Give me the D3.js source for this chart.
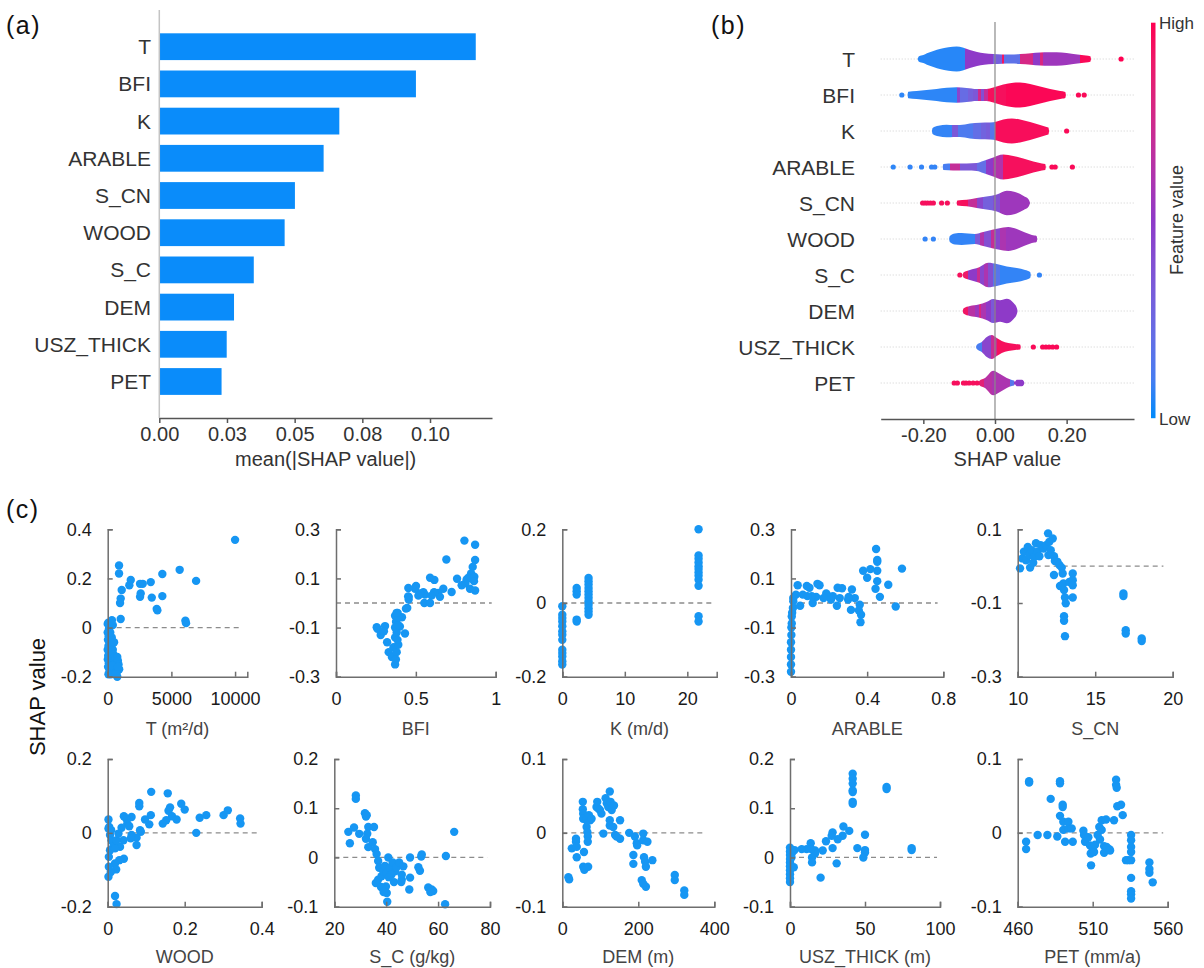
<!DOCTYPE html>
<html>
<head>
<meta charset="utf-8">
<script src="https://cdn.jsdelivr.net/npm/d3@7"></script>
<style>
  body { margin: 0; background: #fff; }
  svg { font-family: "Liberation Sans", Arial, sans-serif; }
</style>
</head>
<body>
<svg id="chart" width="1204" height="968"></svg>
<script>
'use strict';

// ---- (a) mean |SHAP| ----
var features = ['T', 'BFI', 'K', 'ARABLE', 'S_CN', 'WOOD', 'S_C', 'DEM', 'USZ_THICK', 'PET'];
var meanAbsShap = [0.1169, 0.0948, 0.0665, 0.0607, 0.0501, 0.0463, 0.0349, 0.0276, 0.0249, 0.0230];
var barTicks = [0, 0.025, 0.05, 0.075, 0.1];
var barTickLabels = ['0.00', '0.03', '0.05', '0.08', '0.10'];

// ---- (b) violin summary: [shap, relative density], [shap from, feature value], [shap, feature value] ----
var violinTicks = [-0.2, 0, 0.2];
var violinTickLabels = ['-0.20', '0.00', '0.20'];
var violinDensity = [
  [[-0.216,0],[-0.212,0.22],[-0.2,0.32],[-0.19,0.46],[-0.17,0.66],[-0.154,0.8],[-0.13,0.94],[-0.107,1],[-0.09,0.92],[-0.07,0.72],[-0.05,0.56],[-0.03,0.46],[-0.005,0.4],[0.02,0.37],[0.042,0.36],[0.07,0.4],[0.1,0.46],[0.126,0.52],[0.15,0.54],[0.172,0.54],[0.2,0.48],[0.219,0.4],[0.242,0.32],[0.266,0.22],[0.268,0]],
  [[-0.244,0],[-0.242,0.26],[-0.219,0.32],[-0.191,0.4],[-0.163,0.48],[-0.135,0.58],[-0.107,0.62],[-0.079,0.56],[-0.051,0.48],[-0.024,0.48],[-0.005,0.6],[0.023,0.84],[0.051,0.98],[0.07,1],[0.098,0.88],[0.126,0.68],[0.154,0.48],[0.182,0.32],[0.196,0.24],[0.198,0]],
  [[-0.176,0],[-0.174,0.24],[-0.158,0.42],[-0.135,0.5],[-0.116,0.48],[-0.098,0.48],[-0.07,0.6],[-0.042,0.66],[-0.014,0.68],[0.005,0.76],[0.023,0.92],[0.047,1],[0.07,0.92],[0.098,0.72],[0.126,0.48],[0.144,0.32],[0.149,0.28],[0.151,0]],
  [[-0.146,0],[-0.144,0.24],[-0.117,0.28],[-0.079,0.28],[-0.051,0.32],[-0.033,0.48],[-0.009,0.72],[0.023,1],[0.051,0.88],[0.079,0.68],[0.107,0.44],[0.131,0.28],[0.14,0.24],[0.142,0]],
  [[-0.107,0],[-0.105,0.2],[-0.079,0.26],[-0.051,0.4],[-0.024,0.52],[0.005,0.68],[0.033,0.98],[0.056,0.88],[0.08,0.56],[0.094,0.28],[0.096,0.16],[0.098,0]],
  [[-0.128,0],[-0.126,0.24],[-0.112,0.44],[-0.093,0.48],[-0.075,0.44],[-0.056,0.4],[-0.033,0.56],[-0.005,0.76],[0.023,0.92],[0.037,0.96],[0.061,0.8],[0.084,0.52],[0.103,0.32],[0.116,0.24],[0.118,0]],
  [[-0.09,0],[-0.088,0.2],[-0.07,0.4],[-0.046,0.6],[-0.019,0.98],[0.005,0.88],[0.033,0.68],[0.061,0.56],[0.084,0.4],[0.098,0.24],[0.1,0]],
  [[-0.09,0],[-0.088,0.2],[-0.07,0.4],[-0.046,0.52],[-0.024,0.72],[-0.005,0.96],[0.014,0.86],[0.033,0.98],[0.052,0.64],[0.061,0.24],[0.063,0]],
  [[-0.053,0],[-0.051,0.16],[-0.037,0.4],[-0.023,0.8],[-0.009,0.96],[0.005,0.72],[0.019,0.48],[0.037,0.32],[0.056,0.24],[0.07,0.2],[0.072,0]],
  [[-0.046,0],[-0.044,0.16],[-0.028,0.4],[-0.005,0.98],[0.014,0.72],[0.033,0.4],[0.047,0.24],[0.053,0.2],[0.055,0.1],[0.061,0.26],[0.075,0.26],[0.08,0.16],[0.082,0]]
];
var violinColor = [
  [[-0.22,0.03],[-0.084,0.5],[-0.005,0.3],[0.019,0.92],[0.025,0.18],[0.07,0.78],[0.107,0.5],[0.126,0.8],[0.133,0.55],[0.237,0.97]],
  [[-0.25,0.04],[-0.107,0.45],[-0.098,0.22],[-0.075,0.3],[-0.061,0.35],[-0.047,0.75],[-0.038,0.4],[-0.032,0.7],[-0.02,0.95],[0.03,0.98]],
  [[-0.18,0.05],[-0.121,0.35],[-0.102,0.12],[-0.061,0.2],[-0.04,0.28],[-0.024,0.32],[-0.014,0.15],[0.0,0.96]],
  [[-0.15,0.1],[-0.126,0.7],[-0.098,0.35],[-0.051,0.2],[-0.024,0.5],[-0.005,0.62],[0.023,0.95]],
  [[-0.11,0.95],[-0.075,0.7],[-0.051,0.45],[-0.033,0.3],[-0.005,0.4],[0.014,0.55]],
  [[-0.13,0.05],[-0.056,0.35],[-0.042,0.62],[-0.03,0.4],[-0.01,0.7],[0.0,0.45],[0.014,0.6],[0.03,0.55]],
  [[-0.09,0.9],[-0.074,0.5],[-0.05,0.72],[-0.042,0.45],[-0.03,0.6],[-0.019,0.4],[-0.005,0.15],[0.014,0.05]],
  [[-0.09,0.92],[-0.075,0.65],[-0.056,0.55],[-0.046,0.8],[-0.04,0.6],[-0.024,0.5],[-0.012,0.35],[-0.004,0.5]],
  [[-0.055,0.1],[-0.036,0.45],[-0.011,0.72],[0.005,0.95]],
  [[-0.05,0.85],[-0.03,0.65],[-0.009,0.6],[0.042,0.15],[0.053,0.5]]
];
var violinDots = [
  [[0.352,1]],
  [[-0.26,0.04],[0.233,0.97],[0.249,0.97]],
  [[0.2,0.97]],
  [[-0.284,0.04],[-0.237,0.05],[-0.205,0.05],[-0.177,0.05],[-0.168,0.05],[0.159,0.97],[0.168,0.97],[0.216,0.97]],
  [[-0.202,0.95],[-0.195,0.95],[-0.188,0.95],[-0.18,0.95],[-0.172,0.95],[-0.149,0.95],[-0.133,0.95]],
  [[-0.195,0.05],[-0.172,0.05]],
  [[-0.098,0.95],[0.124,0.05]],
  [],
  [[0.107,0.97],[0.133,0.97],[0.142,0.97],[0.151,0.97],[0.161,0.97],[0.172,0.97]],
  [[-0.114,0.95],[-0.105,0.95],[-0.088,0.95],[-0.081,0.95],[-0.072,0.95],[-0.061,0.95],[-0.05,0.95]]
];

// ---- (c) dependence plots ----
var scatterTitles = ['T (m\u00b2/d)', 'BFI', 'K (m/d)', 'ARABLE', 'S_CN', 'WOOD', 'S_C (g/kg)', 'DEM (m)', 'USZ_THICK (m)', 'PET (mm/a)'];
var scatterXDomain = [[0,10960],[0,1],[0,24.7],[0,0.8],[10,20],[0,0.4],[20,80],[0,400],[0,100],[460,560]];
var scatterXTicks = [[0,5000,10000],[0,0.5,1],[0,10,20],[0,0.4,0.8],[10,15,20],[0,0.2,0.4],[20,40,60,80],[0,200,400],[0,50,100],[460,510,560]];
var scatterYDomain = [[-0.2,0.4],[-0.3,0.3],[-0.2,0.2],[-0.3,0.3],[-0.3,0.1],[-0.2,0.2],[-0.1,0.2],[-0.1,0.1],[-0.1,0.2],[-0.1,0.1]];
var scatterYTicks = [[-0.2,0,0.2,0.4],[-0.3,-0.1,0.1,0.3],[-0.2,0,0.2],[-0.3,-0.1,0.1,0.3],[-0.3,-0.1,0.1],[-0.2,0,0.2],[-0.1,0,0.1,0.2],[-0.1,0,0.1],[-0.1,0,0.1,0.2],[-0.1,0,0.1]];
var zeroLineEnd = [10440, 0.975, 24, 0.77, 19.4, 0.39, 79, 375, 98, 557];

var ptsT = [[10000,0.357],[5650,0.235],[6940,0.19],[4290,0.218],[4290,0.128],[3850,0.076],[3900,0.07],[3380,0.185],[3460,0.122],[2750,0.178],[2540,0.178],[2590,0.139],[2540,0.125],[1810,0.194],[1700,0.172],[1100,0.153],[1020,0.118],[970,0.1],[890,0.253],[890,0.22],[1020,0.035],[6100,0.028],[6150,0.018],
  [0,0.015],[50,0.02],[100,-0.005],[0,-0.02],[80,-0.035],[20,-0.05],[150,-0.06],[60,-0.075],[0,-0.09],[120,-0.1],[40,-0.115],[200,-0.12],[10,-0.13],[90,-0.145],[30,-0.16],[150,-0.175],[60,-0.19],[250,-0.06],[300,-0.08],[350,-0.1],[280,-0.13],[400,-0.09],[450,-0.11],[500,-0.14],[550,-0.12],[600,-0.13],[650,-0.155],[700,-0.145],[750,-0.12],[800,-0.135],[850,-0.15],[900,-0.17],[700,-0.185],[750,-0.2],[480,-0.17],[380,-0.155],[320,-0.04],[400,0.01],[330,0.03],[200,-0.02],[250,-0.19],[600,-0.19],[800,-0.16],[500,-0.06]];
var ptsBFI = [[0.804,0.254],[0.871,0.237],[0.691,0.177],[0.871,0.175],[0.856,0.147],[0.758,0.099],[0.846,0.12],[0.829,0.103],[0.866,0.107],[0.864,0.089],[0.818,0.096],[0.81,0.08],[0.787,0.072],[0.839,0.058],[0.871,0.051],[0.724,0.045],[0.672,0.058],[0.64,0.041],[0.651,0.025],[0.614,0.044],[0.599,0.03],[0.589,0.103],[0.616,0.094],[0.547,0.044],[0.557,0.034],[0.526,0.039],[0.501,0.069],[0.495,0.058],[0.516,0.03],[0.453,0.061],[0.455,0.025],[0.455,0.014],[0.553,0.0],[0.589,0.0],[0.438,-0.023],[0.413,-0.058],[0.386,-0.041],[0.37,-0.052],[0.376,-0.076],[0.307,-0.094],[0.255,-0.099],[0.4,-0.096],[0.432,-0.124],[0.446,-0.02],[0.452,0.027],[0.26,-0.105],[0.28,-0.13],[0.3,-0.115],[0.32,-0.16],[0.33,-0.2],[0.35,-0.22],[0.36,-0.18],[0.37,-0.14],[0.37,-0.25],[0.38,-0.12],[0.38,-0.2],[0.39,-0.17],[0.39,-0.06],[0.37,-0.1],[0.38,-0.04],[0.375,-0.23],[0.385,-0.15],[0.39,-0.09]];
var ptsK = [[0,-0.009],[0,-0.032],[0,-0.041],[0,-0.05],[0,-0.063],[0,-0.077],[0,-0.086],[0,-0.1],[0,-0.127],[0,-0.136],[0,-0.145],[0,-0.158],[0,-0.167],
  [2.3,0.041],[2.3,0.032],[2.3,0.023],[2.3,-0.045],[2.3,-0.05],
  [4.2,0.068],[4.2,0.059],[4.2,0.05],[4.2,0.041],[4.2,0.032],[4.2,0.023],[4.2,0.014],[4.2,0.005],[4.2,-0.005],[4.2,-0.014],[4.2,-0.023],[4.2,-0.032],
  [21.8,0.2],[21.8,0.129],[21.8,0.12],[21.8,0.11],[21.8,0.1],[21.8,0.092],[21.8,0.083],[21.8,0.074],[21.8,0.063],[21.8,0.047],[21.8,-0.036],[21.8,-0.05]];
var ptsARABLE = [[0.447,0.22],[0.453,0.175],[0.453,0.168],[0.453,0.131],[0.453,0.089],[0.444,0.058],[0.467,0.025],[0.379,0.131],[0.4,0.103],[0.417,0.138],[0.511,0.074],[0.583,0.14],[0.55,-0.014],[0.361,-0.007],[0.356,-0.03],[0.368,-0.048],[0.365,-0.078],[0.315,-0.028],[0.32,0.055],[0.335,0.02],[0.3,0.014],[0.303,0.025],[0.268,0.06],[0.245,0.062],[0.256,0.02],[0.241,-0.011],[0.22,0.028],[0.21,0.014],[0.197,0.028],[0.185,0.039],[0.171,0.02],[0.15,0.072],[0.139,0.078],[0.132,0.025],[0.114,0.0],[0.109,0.028],[0.097,0.062],[0.083,0.069],[0.086,0.028],[0.062,0.034],[0.048,-0.011],[0.035,0.072],[0.026,0.034],[0.012,0.02],[0.012,0.007],
  [0.004,-0.083],[0.004,-0.055],[0.002,-0.1],[0.002,-0.13],[0,-0.16],[0,-0.19],[0,-0.22],[0,-0.25],[0,-0.28],[0.006,-0.04],[0.01,-0.02]];
var ptsS_CN = [[10.15,-0.006],[10.3,0.021],[10.4,0.039],[10.54,0.016],[10.65,0.052],[10.75,0.03],[10.8,-0.004],[10.9,0.043],[11.0,0.009],[11.05,0.025],[11.18,0.062],[11.27,0.039],[11.4,0.027],[11.48,0.057],[11.66,0.048],[11.83,0.057],[11.96,0.089],[12.04,0.066],[12.13,0.043],[12.26,0.075],[11.98,0.03],[12.34,0.027],[12.4,0.014],[12.56,0.012],[12.69,0.003],[12.34,-0.024],[12.84,-0.004],[12.9,-0.02],[12.73,-0.054],[12.95,-0.047],[12.99,-0.065],[13.05,-0.085],[13.1,-0.101],[12.99,-0.136],[12.99,-0.148],[13.05,-0.19],[13.33,-0.043],[13.55,-0.02],[13.55,-0.038],[13.55,-0.052],[13.55,-0.085],[16.82,-0.074],[16.82,-0.081],[16.97,-0.174],[16.97,-0.183],[18.0,-0.196],[18.0,-0.203]];
var ptsWOOD = [[0.113,0.111],[0.156,0.107],[0.082,0.081],[0.082,0.072],[0.191,0.079],[0.2,0.063],[0.162,0.069],[0.158,0.06],[0.167,0.045],[0.179,0.036],[0.152,0.034],[0.143,0.025],[0.239,0.041],[0.256,0.048],[0.301,0.048],[0.312,0.061],[0.344,0.039],[0.345,0.025],[0.23,0.0],[0.112,0.048],[0.108,0.023],[0.097,0.036],[0.084,0.007],[0.086,0.003],[0.075,-0.013],[0.075,-0.033],[0.062,-0.006],[0.06,-0.015],[0.062,0.043],[0.048,0.039],[0.042,0.045],[0.051,0.025],[0.056,0.018],[0.036,0.014],[0.041,-0.02],[0.032,-0.038],[0.042,-0.07],[0.03,-0.074],[0.019,-0.083],[0.022,-0.099],[0.008,-0.106],[0.002,-0.119],[0.002,0.036],[0.002,0.012],[0.006,-0.006],[0.01,-0.02],[0.015,-0.036],[0.006,-0.047],[0.003,-0.065],[0.003,-0.092],[0.019,-0.042],[0.023,-0.02],[0.028,-0.002],[0.019,-0.171],[0.023,-0.193],[0.004,0.016],[0.009,0.007]];
var ptsS_C = [[25.4,0.052],[26.0,0.029],[27.6,0.061],[28.3,0.126],[28.3,0.119],[29.6,0.048],[31.8,0.09],[32.2,0.083],[32.5,0.086],[33.1,0.062],[32.7,0.048],[32.2,0.038],[33.1,0.021],[35.3,0.062],[34.8,0.031],[35.7,0.017],[36.3,0.007],[36.9,-0.007],[37.3,-0.021],[36.0,-0.052],[36.9,-0.045],[38.2,-0.038],[38.9,-0.028],[39.5,-0.017],[40.2,-0.031],[39.9,-0.059],[40.2,-0.072],[40.4,-0.09],[40.8,0.0],[41.4,-0.021],[42.5,-0.01],[43.4,-0.028],[42,-0.035],[44,-0.02],[43,-0.05],[41,-0.04],[45,-0.01],[46,-0.045],[38,-0.06],[39,-0.07],[46.6,-0.018],[49.2,0.0],[49.2,-0.041],[48.9,-0.065],[52.4,-0.02],[53.0,-0.027],[53.7,0.006],[53.5,0.002],[56.2,-0.061],[57.5,-0.065],[58.1,-0.068],[57,-0.07],[62.7,-0.095],[63.0,0.003],[66.2,0.052],[46,-0.035],[45.8,-0.05]];
var ptsDEM = [[16,-0.06],[18,-0.063],[25,-0.021],[36,-0.008],[36,-0.012],[38,-0.019],[38,-0.033],[54,0.042],[54,0.032],[55,0.026],[55,0.019],[57,-0.026],[55,-0.046],[58,-0.05],[64,0.017],[64,0.008],[66,0.001],[67,-0.005],[67,-0.012],[68,-0.046],[70,0.024],[73,0.017],[77,0.019],[90,0.035],[92,0.042],[95,0.033],[99,0.031],[103,0.026],[108,-0.001],[114,0.047],[117,0.04],[121,0.035],[125,0.056],[127,0.042],[130,0.031],[125,0.017],[125,0.01],[134,0.008],[136,0.037],[139,-0.003],[143,-0.005],[152,0.017],[152,-0.008],[176,0.0],[191,-0.005],[196,-0.014],[187,-0.03],[187,-0.042],[197,-0.017],[213,-0.001],[213,-0.01],[215,-0.033],[218,-0.039],[220,-0.046],[209,-0.064],[213,-0.069],[220,-0.073],[224,-0.012],[237,-0.037],[296,-0.057],[296,-0.064],[321,-0.078],[321,-0.084]];
var ptsUSZ = [[41.8,0.17],[41.8,0.16],[41.8,0.15],[41.8,0.136],[41.8,0.133],[41.8,0.113],[41.8,0.109],[64.4,0.143],[64.4,0.139],[81.1,0.019],[81.1,0.015],[50,0.046],[50,0.015],[50,0.01],[48.9,0.0],[44.9,0.019],[39.5,0.054],[35.6,0.063],[35.1,0.044],[31.8,0.037],[28.4,0.051],[28.4,0.019],[27.8,0.044],[31.1,-0.012],[24,0.033],[21.8,0.014],[20.4,-0.041],[16.7,0.014],[16.7,0.008],[13.8,0.029],[14.2,0.017],[11.1,0.017],[14.7,0.0],[14.7,-0.01],[7.8,0.017],
  [0,0.02],[0,0.012],[0,0.005],[0,-0.003],[0,-0.01],[0,-0.018],[0,-0.026],[0,-0.034],[0,-0.042],[0,-0.05],[1.5,0.01],[2.5,-0.02],[1,0.0],[3,0.015]];
var ptsPET = [[465.6,-0.012],[465.6,-0.022],[467.6,0.07],[467.6,0.068],[473.3,-0.003],[479.8,-0.003],[482,0.046],[486.4,-0.005],[488.2,0.07],[488.2,0.067],[488.2,0.023],[490,0.038],[490,0.035],[490.4,0.015],[490.4,0.004],[491.6,-0.012],[493.8,0.015],[493.8,0.006],[496,0.006],[496.7,-0.012],[503.8,0.003],[504.2,-0.003],[504.9,-0.012],[507.1,-0.006],[508.2,-0.017],[508.7,-0.028],[508.9,-0.044],[510,-0.022],[510.9,-0.026],[511.6,-0.016],[513.3,-0.003],[514.4,0.008],[514.9,-0.009],[516,0.004],[516,0.017],[517.6,-0.018],[517.6,-0.027],[518.9,0.018],[519.3,-0.019],[521.1,-0.022],[521.6,-0.024],[524.2,0.017],[525.6,0.072],[525.6,0.065],[526,0.061],[526.4,0.036],[528.9,0.038],[530,0.024],[532.2,-0.037],[533.8,-0.037],[535.6,-0.003],[535.6,-0.01],[535.6,-0.019],[535.6,-0.026],[535.6,-0.037],[535.6,-0.061],[535.6,-0.079],[535.6,-0.083],[535.6,-0.089],[547.8,-0.04],[547.8,-0.049],[547.8,-0.054],[550,-0.067]];
var scatterPoints = [ptsT, ptsBFI, ptsK, ptsARABLE, ptsS_CN, ptsWOOD, ptsS_C, ptsDEM, ptsUSZ, ptsPET];

var svg = d3.select('#chart');
var fvColor = d3.scaleLinear()
  .domain([0, 0.5, 1])
  .range(['#008bfb', '#8e3ac8', '#ff0051'])
  .interpolate(d3.interpolateLab);

drawBars();
drawViolins();
drawScatters();

function panelLabel(text, x, y) {
  svg.append('text')
    .attr('x', x).attr('y', y)
    .attr('font-size', 25)
    .attr('letter-spacing', 1.5)
    .attr('fill', '#111')
    .text(text);
}

function drawBars() {
  var x = d3.scaleLinear().domain([0, 0.1229]).range([159.3, 492]);
  var y = d3.scaleBand().domain(features).range([28.1, 400.1])
    .paddingInner(0.28).paddingOuter(0.14);
  var g = svg.append('g');

  g.selectAll('rect.bar')
    .data(meanAbsShap)
    .enter().append('rect')
    .attr('class', 'bar')
    .attr('x', x(0))
    .attr('y', function(d, i) { return y(features[i]); })
    .attr('width', function(d) { return x(d) - x(0); })
    .attr('height', y.bandwidth())
    .attr('fill', '#0a8cfa');

  g.selectAll('text.flab')
    .data(features)
    .enter().append('text')
    .attr('class', 'flab')
    .attr('x', 151)
    .attr('y', function(d) { return y(d) + y.bandwidth() / 2; })
    .attr('dy', '0.36em')
    .attr('text-anchor', 'end')
    .attr('font-size', 21)
    .attr('fill', '#333')
    .text(function(d) { return d; });

  g.append('line')
    .attr('x1', x(0)).attr('x2', x(0))
    .attr('y1', 10).attr('y2', 418)
    .attr('stroke', '#c4c4c4').attr('stroke-width', 1.5);

  var ax = g.append('g')
    .attr('transform', 'translate(0,418)')
    .call(d3.axisBottom(x).tickValues(barTicks)
      .tickFormat(function(d, i) { return barTickLabels[i]; })
      .tickSize(5).tickSizeOuter(0).tickPadding(4));
  styleAxis(ax, '#555', '#333', 20);

  g.append('text')
    .attr('x', (x.range()[0] + x.range()[1]) / 2)
    .attr('y', 466)
    .attr('text-anchor', 'middle')
    .attr('font-size', 20)
    .attr('fill', '#333')
    .text('mean(|SHAP value|)');

  panelLabel('(a)', 6, 34);
}

function drawViolins() {
  var x = d3.scaleLinear().domain([-0.319, 0.388]).range([880.7, 1134]);
  var y = d3.scalePoint().domain(features).range([59, 383]);
  var w = d3.scaleLinear().domain([0, 1]).range([0, 12.5]);
  var g = svg.append('g');
  var defs = svg.append('defs');
  var x0 = x.range()[0], x1 = x.range()[1];

  // faint dotted guides
  g.selectAll('line.guide')
    .data(features)
    .enter().append('line')
    .attr('class', 'guide')
    .attr('x1', x0).attr('x2', x1)
    .attr('y1', function(d) { return y(d); })
    .attr('y2', function(d) { return y(d); })
    .attr('stroke', '#cfcfcf')
    .attr('stroke-width', 1)
    .attr('stroke-dasharray', '1,2');

  features.forEach(function(f, i) {
    var cy = y(f);
    var grad = defs.append('linearGradient')
      .attr('id', 'vg' + i)
      .attr('gradientUnits', 'userSpaceOnUse')
      .attr('x1', x0).attr('x2', x1).attr('y1', 0).attr('y2', 0);
    var segs = violinColor[i];
    segs.forEach(function(s, j) {
      var from = (x(s[0]) - x0) / (x1 - x0);
      var to = j < segs.length - 1 ? (x(segs[j + 1][0]) - x0) / (x1 - x0) : 1;
      grad.append('stop').attr('offset', Math.max(0, from)).attr('stop-color', fvColor(s[1]));
      grad.append('stop').attr('offset', to).attr('stop-color', fvColor(s[1]));
    });

    var area = d3.area()
      .x(function(d) { return x(d[0]); })
      .y0(function(d) { return cy + w(d[1]); })
      .y1(function(d) { return cy - w(d[1]); })
      .curve(d3.curveMonotoneX);

    g.append('path')
      .datum(violinDensity[i])
      .attr('d', area)
      .attr('fill', 'url(#vg' + i + ')');

    g.selectAll('circle.d' + i)
      .data(violinDots[i])
      .enter().append('circle')
      .attr('class', 'd' + i)
      .attr('cx', function(d) { return x(d[0]); })
      .attr('cy', cy)
      .attr('r', 2.6)
      .attr('fill', function(d) { return fvColor(d[1]); });
  });

  g.append('line')
    .attr('x1', x(0)).attr('x2', x(0))
    .attr('y1', 22).attr('y2', 419)
    .attr('stroke', '#8a8a8a').attr('stroke-width', 1.4).attr('opacity', 0.85);

  g.selectAll('text.flab')
    .data(features)
    .enter().append('text')
    .attr('class', 'flab')
    .attr('x', 855)
    .attr('y', function(d) { return y(d); })
    .attr('dy', '0.36em')
    .attr('text-anchor', 'end')
    .attr('font-size', 21)
    .attr('fill', '#333')
    .text(function(d) { return d; });

  var ax = g.append('g')
    .attr('transform', 'translate(0,419)')
    .call(d3.axisBottom(x).tickValues(violinTicks)
      .tickFormat(function(d, i) { return violinTickLabels[i]; })
      .tickSize(5).tickSizeOuter(0).tickPadding(4));
  styleAxis(ax, '#555', '#333', 20);

  g.append('text')
    .attr('x', (x0 + x1) / 2)
    .attr('y', 466)
    .attr('text-anchor', 'middle')
    .attr('font-size', 20)
    .attr('fill', '#333')
    .text('SHAP value');

  // colour bar
  var cb = defs.append('linearGradient')
    .attr('id', 'cbar')
    .attr('x1', 0).attr('x2', 0).attr('y1', 1).attr('y2', 0);
  d3.range(0, 1.01, 0.1).forEach(function(t) {
    cb.append('stop').attr('offset', t).attr('stop-color', fvColor(t));
  });
  g.append('rect')
    .attr('x', 1151).attr('y', 22.7)
    .attr('width', 4.5).attr('height', 395.5)
    .attr('fill', 'url(#cbar)');
  g.append('text').attr('x', 1159).attr('y', 23).attr('dy', '0.36em')
    .attr('font-size', 17).attr('fill', '#333').text('High');
  g.append('text').attr('x', 1159).attr('y', 419).attr('dy', '0.36em')
    .attr('font-size', 17).attr('fill', '#333').text('Low');
  g.append('text')
    .attr('transform', 'translate(1183,220) rotate(-90)')
    .attr('text-anchor', 'middle')
    .attr('font-size', 18).attr('fill', '#333')
    .text('Feature value');

  panelLabel('(b)', 711, 34);
}

function drawScatters() {
  var boxes = [
    [107.7, 247.3], [336, 495.7], [562.3, 716.7], [791, 943.3], [1017.7, 1172.7],
    [107.7, 261.7], [334.3, 490], [562.3, 714.3], [790, 940], [1017.7, 1167.7]
  ];
  var rows = [[529.3, 676.7], [759, 906.7]];
  var titleY = [735, 963];

  scatterPoints.forEach(function(pts, i) {
    var r = i < 5 ? 0 : 1;
    var x = d3.scaleLinear().domain(scatterXDomain[i]).range(boxes[i]);
    var y = d3.scaleLinear().domain(scatterYDomain[i]).range([rows[r][1], rows[r][0]]);
    var g = svg.append('g');

    g.append('line')
      .attr('x1', x(scatterXDomain[i][0])).attr('x2', x(zeroLineEnd[i]))
      .attr('y1', y(0)).attr('y2', y(0))
      .attr('stroke', '#8c8c8c').attr('stroke-width', 1.3)
      .attr('stroke-dasharray', '5,4');

    g.selectAll('circle')
      .data(pts)
      .enter().append('circle')
      .attr('cx', function(d) { return x(d[0]); })
      .attr('cy', function(d) { return y(d[1]); })
      .attr('r', 4.2)
      .attr('fill', '#1696f3');

    var ax = g.append('g')
      .attr('transform', 'translate(0,' + rows[r][1] + ')')
      .call(d3.axisBottom(x).tickValues(scatterXTicks[i])
        .tickFormat(function(d) { return String(d); })
        .tickSize(-5).tickSizeOuter(-5).tickPadding(16));
    styleAxis(ax, '#6e6e6e', '#1a1a1a', 18);

    var ay = g.append('g')
      .attr('transform', 'translate(' + boxes[i][0] + ',0)')
      .call(d3.axisLeft(y).tickValues(scatterYTicks[i])
        .tickFormat(function(d) { return String(d); })
        .tickSize(-5).tickSizeOuter(-5).tickPadding(16));
    styleAxis(ay, '#6e6e6e', '#1a1a1a', 18);

    g.append('text')
      .attr('x', (boxes[i][0] + boxes[i][1]) / 2)
      .attr('y', titleY[r])
      .attr('text-anchor', 'middle')
      .attr('font-size', 18)
      .attr('fill', '#444')
      .text(scatterTitles[i]);
  });

  svg.append('text')
    .attr('transform', 'translate(45,697) rotate(-90)')
    .attr('text-anchor', 'middle')
    .attr('font-size', 22)
    .attr('fill', '#111')
    .text('SHAP value');

  panelLabel('(c)', 6, 518);
}

function styleAxis(sel, lineColor, textColor, size) {
  sel.selectAll('path, line')
    .attr('stroke', lineColor)
    .attr('stroke-width', 1.5);
  sel.selectAll('text')
    .attr('fill', textColor)
    .attr('font-size', size)
    .attr('font-family', '"Liberation Sans", Arial, sans-serif');
}
</script>
</body>
</html>
